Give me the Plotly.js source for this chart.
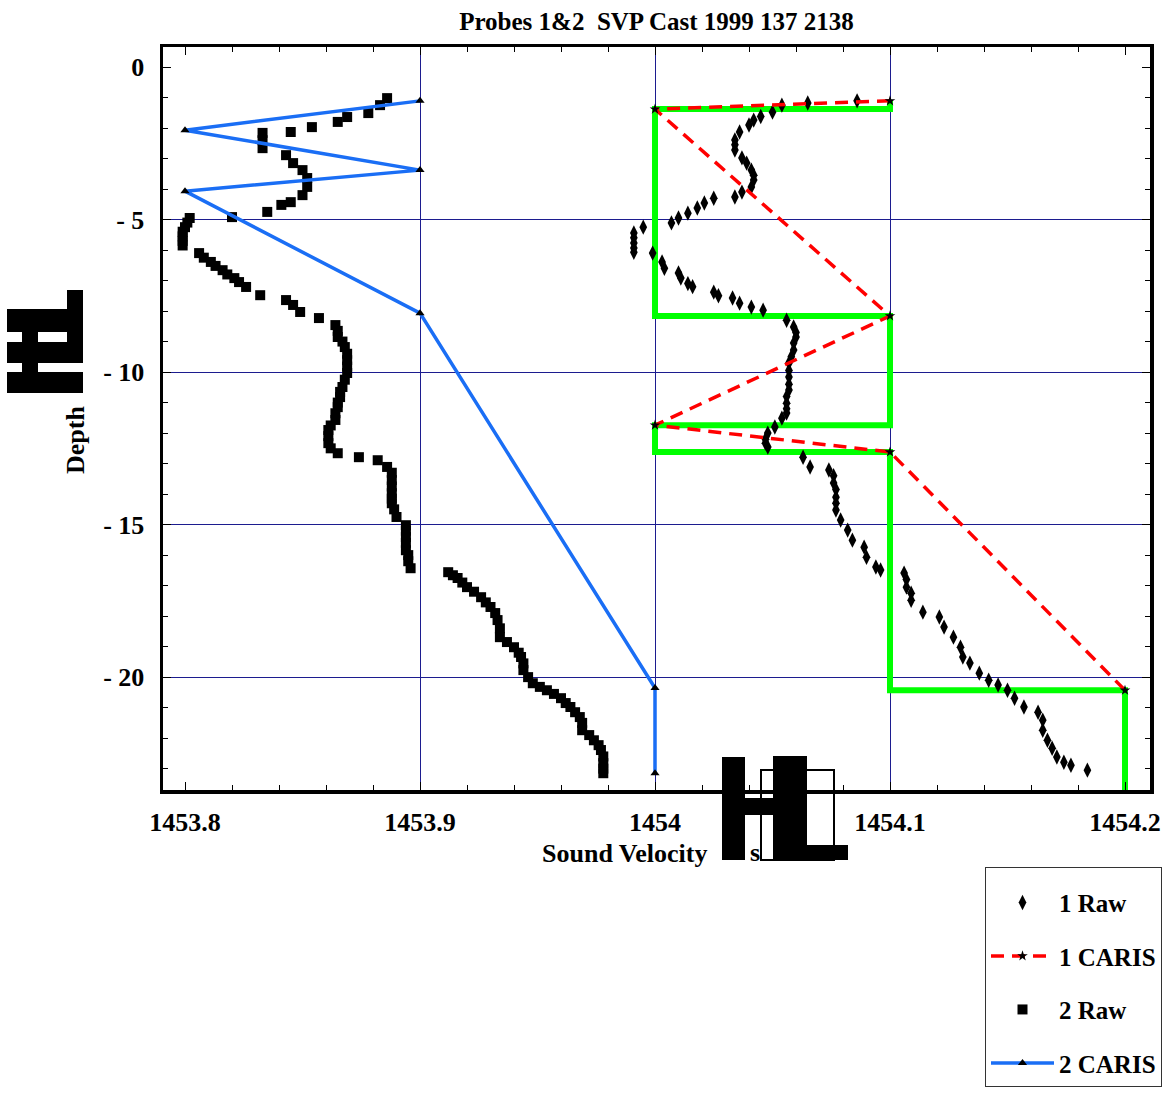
<!DOCTYPE html>
<html>
<head>
<meta charset="utf-8">
<script src="https://cdn.plot.ly/plotly-3.0.1.min.js"></script>
<style>html,body{margin:0;padding:0;background:#fff;}#chart{width:1167px;height:1096px;}</style>
</head>
<body>
<div id="chart"></div>
<script>
// ---- Data ----
const raw1Velocity = [1454.086,1454.065,1454.054,1454.050,1454.045,1454.042,1454.040,1454.036,1454.034,1454.034,1454.034,1454.037,1454.039,1454.041,1454.042,1454.042,1454.041,1454.037,1454.034,1454.025,1454.021,1454.018,1454.014,1454.010,1454.007,1453.995,1453.991,1453.991,1453.991,1453.991,1453.991,1453.999,1454.003,1454.004,1454.010,1454.011,1454.014,1454.016,1454.025,1454.027,1454.033,1454.036,1454.041,1454.046,1454.056,1454.059,1454.060,1454.060,1454.059,1454.059,1454.058,1454.057,1454.057,1454.057,1454.057,1454.057,1454.056,1454.056,1454.056,1454.056,1454.054,1454.051,1454.048,1454.047,1454.047,1454.048,1454.063,1454.066,1454.074,1454.076,1454.076,1454.077,1454.077,1454.077,1454.077,1454.079,1454.082,1454.084,1454.089,1454.090,1454.094,1454.096,1454.106,1454.107,1454.107,1454.109,1454.109,1454.114,1454.121,1454.123,1454.127,1454.130,1454.131,1454.134,1454.138,1454.142,1454.146,1454.150,1454.153,1454.157,1454.163,1454.165,1454.165,1454.167,1454.169,1454.171,1454.174,1454.177,1454.184];
const raw1Depth = [-1.11,-1.18,-1.25,-1.48,-1.62,-1.74,-1.90,-2.13,-2.39,-2.55,-2.72,-2.98,-3.15,-3.38,-3.55,-3.70,-3.93,-4.10,-4.26,-4.30,-4.46,-4.62,-4.79,-4.95,-5.11,-5.25,-5.44,-5.60,-5.77,-5.93,-6.07,-6.10,-6.39,-6.60,-6.75,-6.92,-7.10,-7.20,-7.38,-7.50,-7.57,-7.74,-7.87,-7.97,-8.30,-8.52,-8.70,-8.85,-9.05,-9.28,-9.50,-9.70,-9.95,-10.16,-10.40,-10.59,-10.80,-11.02,-11.20,-11.34,-11.51,-11.80,-12.00,-12.20,-12.33,-12.46,-12.79,-13.11,-13.21,-13.40,-13.64,-13.85,-14.10,-14.30,-14.52,-14.85,-15.18,-15.51,-15.74,-16.07,-16.39,-16.49,-16.59,-16.80,-17.05,-17.25,-17.48,-17.87,-18.03,-18.36,-18.69,-19.02,-19.34,-19.54,-19.87,-20.10,-20.26,-20.43,-20.69,-20.98,-21.15,-21.41,-21.74,-22.07,-22.33,-22.62,-22.79,-22.89,-23.05];

const caris1Velocity = [1454.1, 1454.0, 1454.1, 1454.0, 1454.1, 1454.2];
const caris1Depth = [-1.11, -1.38, -8.16, -11.74, -12.62, -20.43];

// Stepped profile (green) built from the CARIS 1 layers
const stepVelocity = [1454.1, 1454.0, 1454.1, 1454.0, 1454.1, 1454.2, 1454.2];
const stepDepth = [-1.11, -1.38, -8.16, -11.74, -12.62, -20.43, -24.0];

const raw2Velocity = [1453.886,1453.883,1453.878,1453.869,1453.865,1453.854,1453.845,1453.833,1453.833,1453.833,1453.843,1453.846,1453.850,1453.852,1453.852,1453.850,1453.845,1453.841,1453.835,1453.820,1453.802,1453.801,1453.800,1453.799,1453.799,1453.799,1453.799,1453.806,1453.808,1453.811,1453.813,1453.816,1453.818,1453.821,1453.823,1453.826,1453.832,1453.843,1453.846,1453.849,1453.857,1453.864,1453.865,1453.865,1453.867,1453.868,1453.869,1453.869,1453.869,1453.869,1453.868,1453.867,1453.866,1453.866,1453.865,1453.865,1453.864,1453.864,1453.862,1453.861,1453.861,1453.861,1453.862,1453.865,1453.874,1453.882,1453.886,1453.888,1453.888,1453.888,1453.888,1453.888,1453.888,1453.889,1453.890,1453.894,1453.894,1453.894,1453.894,1453.894,1453.895,1453.895,1453.896,1453.912,1453.914,1453.916,1453.918,1453.920,1453.923,1453.926,1453.928,1453.930,1453.932,1453.933,1453.934,1453.934,1453.937,1453.940,1453.942,1453.943,1453.944,1453.944,1453.946,1453.948,1453.951,1453.954,1453.957,1453.960,1453.962,1453.964,1453.966,1453.968,1453.969,1453.969,1453.972,1453.974,1453.976,1453.977,1453.978,1453.978,1453.978,1453.978];
const raw2Depth = [-1.02,-1.25,-1.51,-1.64,-1.80,-1.97,-2.13,-2.16,-2.40,-2.66,-2.89,-3.15,-3.38,-3.64,-3.93,-4.20,-4.43,-4.52,-4.75,-4.92,-4.95,-5.10,-5.25,-5.40,-5.55,-5.70,-5.85,-6.10,-6.25,-6.39,-6.52,-6.66,-6.80,-6.92,-7.05,-7.21,-7.48,-7.64,-7.80,-8.03,-8.23,-8.46,-8.65,-8.85,-9.00,-9.18,-9.40,-9.61,-9.82,-10.03,-10.25,-10.49,-10.65,-10.82,-11.00,-11.15,-11.35,-11.57,-11.75,-11.90,-12.10,-12.33,-12.50,-12.66,-12.79,-12.89,-13.11,-13.30,-13.54,-13.75,-13.97,-14.15,-14.30,-14.50,-14.75,-15.02,-15.20,-15.41,-15.60,-15.84,-16.00,-16.20,-16.43,-16.56,-16.66,-16.75,-16.90,-17.05,-17.20,-17.38,-17.55,-17.70,-17.90,-18.13,-18.40,-18.69,-18.85,-19.02,-19.20,-19.34,-19.55,-19.77,-20.00,-20.20,-20.32,-20.43,-20.55,-20.69,-20.85,-20.98,-21.15,-21.31,-21.50,-21.74,-21.90,-22.07,-22.23,-22.39,-22.60,-22.82,-23.00,-23.15];

const caris2Velocity = [1453.9, 1453.8, 1453.9, 1453.8, 1453.9, 1454.0, 1454.0];
const caris2Depth = [-1.11, -2.07, -3.38, -4.07, -8.07, -20.36, -23.15];

const xTickVals = [1453.8, 1453.9, 1454.0, 1454.1, 1454.2];
const xTickText = ['1453.8', '1453.9', '1454', '1454.1', '1454.2'];
const yTickVals = [0, -5, -10, -15, -20];
const yTickText = ['0', '- 5', '- 10', '- 15', '- 20'];
const xGridVals = [1453.9, 1454.0, 1454.1];
const yGridVals = [-5, -10, -15, -20];

const titleText = 'Probes 1&amp;2  SVP Cast 1999 137 2138';
const legendNames = ['1 Raw', '1 CARIS', '2 Raw', '2 CARIS'];

// ---- Layout geometry ----
const W = 1167, H = 1096;
const mL = 163, mR = 17, mT = 47, mB = 306;
const pw = W - mL - mR, ph = H - mT - mB;
const px = x => (x - mL) / pw;
const py = y => (H - mB - y) / ph;
const FONT = 'Liberation Serif, Times New Roman, serif';

function blk(x0, y0, x1, y1, fill) {
  return {type: 'rect', xref: 'paper', yref: 'paper', layer: 'above',
    x0: px(x0), x1: px(x1), y0: py(y1), y1: py(y0),
    fillcolor: fill, line: {width: 0}};
}
function outline(x0, y0, x1, y1) {
  return {type: 'rect', xref: 'paper', yref: 'paper', layer: 'above',
    x0: px(x0), x1: px(x1), y0: py(y1), y1: py(y0),
    fillcolor: 'rgba(0,0,0,0)', line: {width: 2, color: '#000'}};
}

const shapes = [
  // y-title unrenderable glyph blocks
  blk(7, 309, 83, 393, '#000'),
  blk(67, 290, 83, 309, '#000'),
  blk(7, 332, 22, 342, '#fff'),
  blk(38, 332, 67, 342, '#fff'),
  blk(7, 363, 22, 372, '#fff'),
  blk(38, 363, 84, 372, '#fff'),
  // x-title unrenderable glyph blocks
  outline(761, 770, 834, 860),
  blk(722, 757, 745, 860, '#000'),
  blk(745, 798, 773, 815, '#000'),
  blk(773, 756, 807, 845, '#000'),
  blk(773, 845, 848, 860, '#000')
];

const traces = [
  {x: stepVelocity, y: stepDepth, type: 'scatter', mode: 'lines', showlegend: false,
   line: {color: '#00ff00', width: 6, shape: 'vh'}, hoverinfo: 'skip'},
  {x: raw1Velocity, y: raw1Depth, type: 'scatter', mode: 'markers', name: legendNames[0],
   legendgroup: 'a', marker: {symbol: 'diamond-tall', size: 11, color: '#000'}},
  {x: caris1Velocity, y: caris1Depth, type: 'scatter', mode: 'lines+markers', name: legendNames[1],
   legendgroup: 'b', line: {color: '#ff0000', width: 3.5, dash: '13px,8px'},
   marker: {symbol: 'star', size: 8, color: '#000'}},
  {x: raw2Velocity, y: raw2Depth, type: 'scatter', mode: 'markers', name: legendNames[2],
   legendgroup: 'c', marker: {symbol: 'square', size: 10, color: '#000'}},
  {x: caris2Velocity, y: caris2Depth, type: 'scatter', mode: 'lines+markers', name: legendNames[3],
   legendgroup: 'd', line: {color: '#1a6ef5', width: 3.5},
   marker: {symbol: 'triangle-up', size: 8, color: '#000'}}
];

const axisFont = {family: FONT, size: 26, color: '#000', weight: 'bold'};

const layout = {
  width: W, height: H,
  margin: {l: mL, r: mR, t: mT, b: mB, pad: 0, autoexpand: false},
  paper_bgcolor: '#fff', plot_bgcolor: '#fff',
  showlegend: true,
  title: {text: '<b>' + titleText + '</b>', x: 0.5, xref: 'paper', xanchor: 'center',
    y: 1 - 21 / H, yref: 'container', yanchor: 'middle',
    font: {family: FONT, size: 25, color: '#000'}},
  xaxis: {
    range: [1453.8 - 22 / 2350, 1454.2 + 25 / 2350],
    tickmode: 'array', tickvals: xTickVals, ticktext: xTickText,
    showgrid: false, zeroline: false, automargin: false,
    showline: true, linecolor: '#000', linewidth: 3.5, mirror: 'allticks',
    ticks: 'inside', ticklen: 8, tickwidth: 1, tickcolor: '#000',
    minor: {dtick: 0.02, tick0: 1453.8, ticks: 'inside', ticklen: 5, tickcolor: '#000', showgrid: false},
    tickfont: axisFont, ticklabelstandoff: 6
  },
  yaxis: {
    range: [-23.70, 0.656],
    tickmode: 'array', tickvals: yTickVals, ticktext: yTickText,
    showgrid: false, zeroline: false, automargin: false,
    showline: true, linecolor: '#000', linewidth: 3.5, mirror: 'allticks',
    ticks: 'inside', ticklen: 8, tickwidth: 1, tickcolor: '#000',
    minor: {dtick: 1, tick0: 0, ticks: 'inside', ticklen: 5, tickcolor: '#000', showgrid: false},
    tickfont: axisFont, ticklabelstandoff: 10
  },
  xaxis2: {
    overlaying: 'x', matches: 'x', range: [1453.8 - 22 / 2350, 1454.2 + 25 / 2350],
    tickmode: 'array', tickvals: xGridVals, showticklabels: false, ticks: '',
    showgrid: true, gridcolor: '#1c1c8f', gridwidth: 1, zeroline: false, showline: false
  },
  yaxis2: {
    overlaying: 'y', matches: 'y', range: [-23.70, 0.656],
    tickmode: 'array', tickvals: yGridVals, showticklabels: false, ticks: '',
    showgrid: true, gridcolor: '#1c1c8f', gridwidth: 1, zeroline: false, showline: false
  },
  legend: {
    x: px(985), y: py(867), xanchor: 'left', yanchor: 'top',
    bgcolor: '#fff', bordercolor: '#333', borderwidth: 1,
    font: {family: FONT, size: 25, color: '#000', weight: 'bold'},
    title: {text: '&nbsp;', font: {family: FONT, size: 9}},
    traceorder: 'grouped', tracegroupgap: 18, itemwidth: 63
  },
  shapes: shapes,
  annotations: [
    {text: '<b>Depth</b>', xref: 'paper', yref: 'paper', x: px(75), y: py(440),
     textangle: -90, showarrow: false, xanchor: 'center', yanchor: 'middle',
     font: {family: FONT, size: 26, color: '#000'}},
    {text: '<b>Sound Velocity</b>', xref: 'paper', yref: 'paper', x: px(624), y: py(853),
     showarrow: false, xanchor: 'center', yanchor: 'middle',
     font: {family: FONT, size: 26, color: '#000'}},
    {text: '<b>s</b>', xref: 'paper', yref: 'paper', x: px(755), y: py(852),
     showarrow: false, xanchor: 'center', yanchor: 'middle',
     font: {family: FONT, size: 26, color: '#000'}}
  ]
};

// Attach an invisible trace to the grid-only overlay axes so they render
traces.unshift({x: [xGridVals[0]], y: [yGridVals[0]], xaxis: 'x2', yaxis: 'y2', type: 'scatter',
  mode: 'markers', marker: {opacity: 0}, showlegend: false, hoverinfo: 'skip'});

Plotly.newPlot('chart', traces, layout, {displayModeBar: false, staticPlot: true});
</script>
</body>
</html>
